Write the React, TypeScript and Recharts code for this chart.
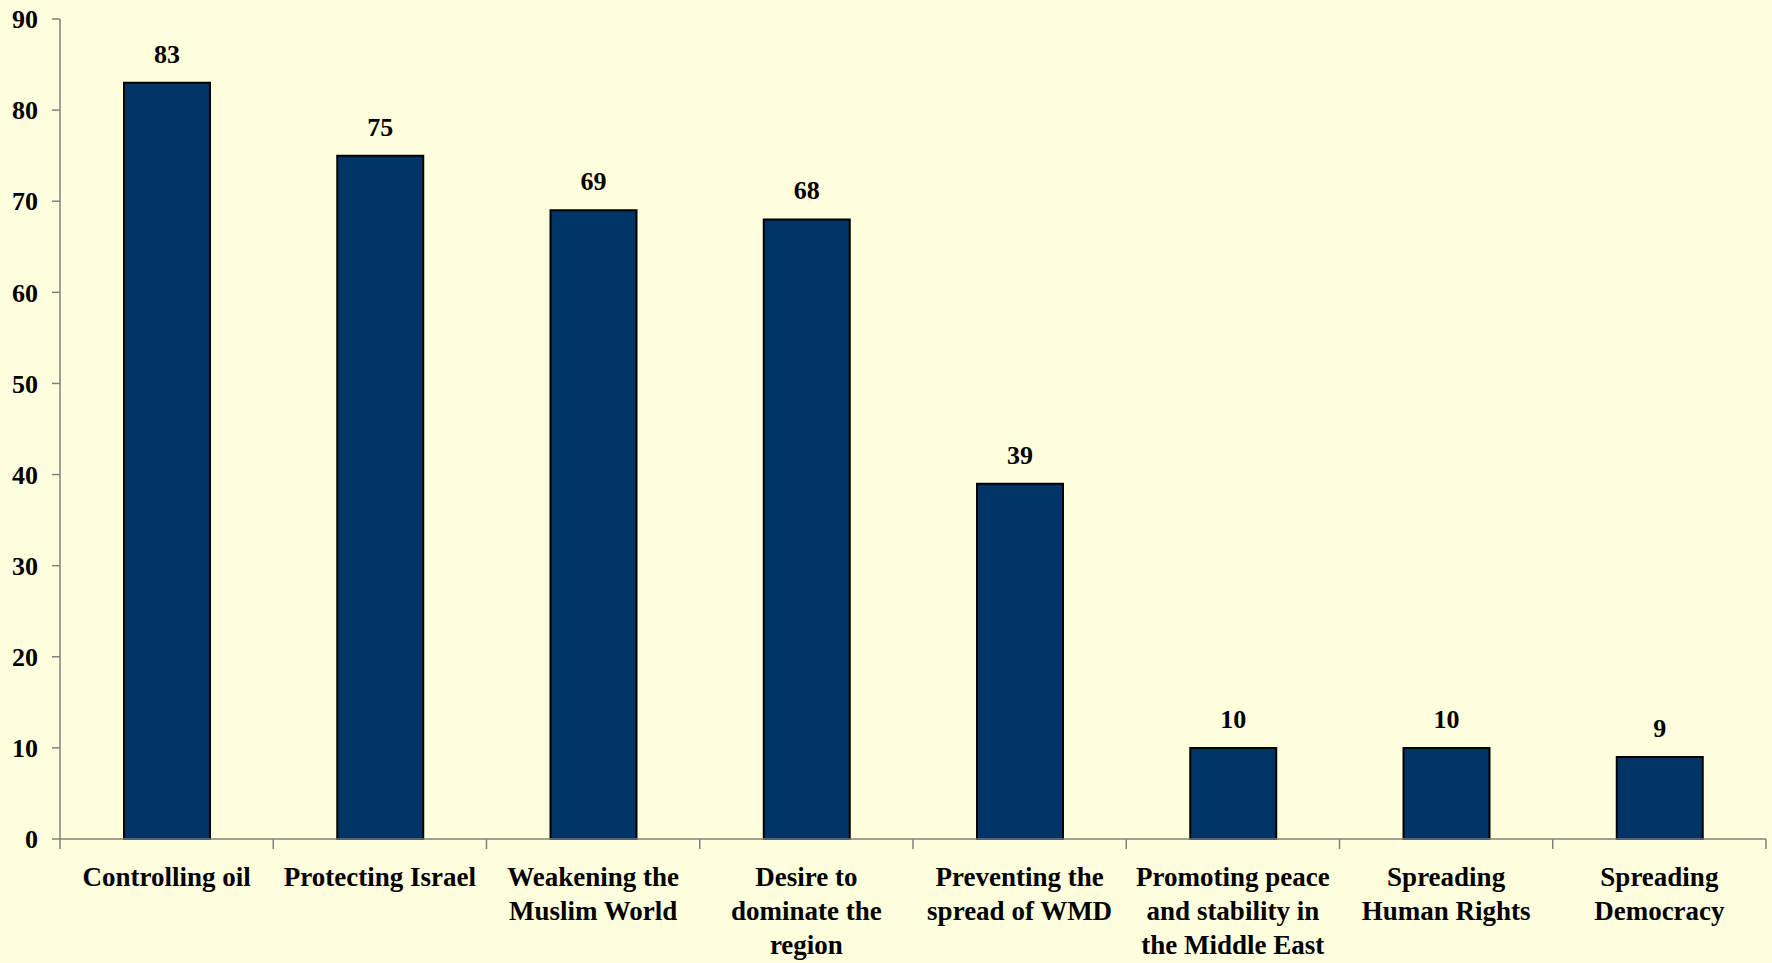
import React from 'react';
import { BarChart, Bar, XAxis, YAxis, LabelList } from 'recharts';

// ============ DATA ============
const categories: string[] = [
  'Controlling oil',
  'Protecting Israel',
  'Weakening the\nMuslim World',
  'Desire to\ndominate the\nregion',
  'Preventing the\nspread of WMD',
  'Promoting peace\nand stability in\nthe Middle East',
  'Spreading\nHuman Rights',
  'Spreading\nDemocracy',
];
const values: number[] = [83, 75, 69, 68, 39, 10, 10, 9];
const yTicks: number[] = [0, 10, 20, 30, 40, 50, 60, 70, 80, 90];

const data = categories.map((name, i) => ({ name, value: values[i] }));

const FONT = "'Liberation Serif', 'Times New Roman', serif";
const AXIS = '#808080';

// category label with line breaks + tick marks at category edges
const CategoryTick = (props: any) => {
  const { x, y, payload, index } = props;
  const half = payload.offset || 0;
  const lines = String(payload.value).split('\n');
  const base = y - 10;
  return (
    <g>
      <line x1={x - half} x2={x - half} y1={base} y2={base + 10} stroke={AXIS} strokeWidth={1.5} />
      {index === categories.length - 1 && (
        <line x1={x + half} x2={x + half} y1={base} y2={base + 10} stroke={AXIS} strokeWidth={1.5} />
      )}
      <text x={x} y={y} textAnchor="middle" fontFamily={FONT} fontWeight="bold" fontSize={27} fill="#000">
        {lines.map((l, i) => (
          <tspan key={i} x={x} dy={i === 0 ? 37 : 34}>{l}</tspan>
        ))}
      </text>
    </g>
  );
};

export default function App() {
  return (
    <div style={{ position: 'fixed', left: 0, top: 0, width: 1772, height: 963, background: '#FFFFDD' }}>
      <BarChart
        width={1772}
        height={963}
        data={data}
        margin={{ top: 19, right: 6, left: 0, bottom: 1 }}
      >
        <XAxis
          dataKey="name"
          interval={0}
          height={123}
          axisLine={{ stroke: AXIS, strokeWidth: 1.5 }}
          tickLine={{ stroke: 'transparent' }}
          tickSize={10}
          tickMargin={0}
          tick={<CategoryTick />}
        />
        <YAxis
          domain={[0, 90]}
          ticks={yTicks}
          width={60}
          tickSize={8}
          tickMargin={14}
          axisLine={{ stroke: AXIS, strokeWidth: 1.5 }}
          tickLine={{ stroke: AXIS, strokeWidth: 1.5 }}
          tick={{ fill: '#000', fontSize: 26, fontWeight: 'bold', fontFamily: FONT }}
        />
        <Bar dataKey="value" fill="#003366" stroke="#000" strokeWidth={2} barSize={86} isAnimationActive={false}>
          <LabelList
            dataKey="value"
            position="top"
            offset={20}
            style={{ fill: '#000', fontSize: 26, fontWeight: 'bold', fontFamily: FONT }}
          />
        </Bar>
      </BarChart>
    </div>
  );
}
